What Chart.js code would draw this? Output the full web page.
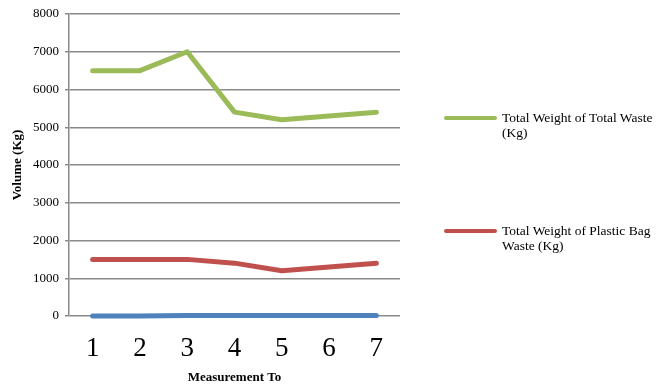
<!DOCTYPE html>
<html><head><meta charset="utf-8">
<script src="https://cdn.jsdelivr.net/npm/chart.js@4"></script>
<style>
html,body{margin:0;padding:0;background:#fff;}
#wrap{position:relative;width:656px;height:389px;}
canvas{position:absolute;left:0;top:0;}
.leg{position:absolute;font-family:"Liberation Serif","Times New Roman",serif;font-size:13.5px;line-height:15px;color:#000;white-space:nowrap;}
.sw{position:absolute;height:4px;border-radius:2px;}
</style></head><body>
<div id="wrap">
<canvas id="c" width="656" height="389"></canvas>
<div class="sw" style="left:444px;top:116px;width:53px;background:#9bbb59"></div>
<div class="leg" style="left:502px;top:110px;">Total Weight of Total Waste<br>(Kg)</div>
<div class="sw" style="left:444px;top:229px;width:53px;background:#c0504d"></div>
<div class="leg" style="left:502px;top:223px;">Total Weight of Plastic Bag<br>Waste (Kg)</div>
</div>
<script>
const categories = ["1","2","3","4","5","6","7"];
const totalWaste = [6500, 6500, 7000, 5400, 5200, 5300, 5400];
const plasticBag = [1500, 1500, 1500, 1400, 1200, 1300, 1400];
const thirdSeries = [0, 0, 10, 10, 10, 10, 10];
const yTicks = [0,1000,2000,3000,4000,5000,6000,7000,8000];

const serif = '"Liberation Serif","Times New Roman",serif';
const ds = (label, data, color) => ({label, data, borderColor: color, borderWidth: 5, pointRadius: 0, borderCapStyle: 'round', borderJoinStyle: 'round', tension: 0, clip: false});
new Chart(document.getElementById('c'), {
  type: 'line',
  data: {
    labels: categories,
    datasets: [
      ds('Series 3', thirdSeries, '#4f81bd'),
      ds('Total Weight of Plastic Bag Waste (Kg)', plasticBag, '#c0504d'),
      ds('Total Weight of Total Waste (Kg)', totalWaste, '#9bbb59')
    ]
  },
  options: {
    responsive: false, animation: false,
    layout: {padding: {left: 0, right: 256, top: 14, bottom: 0}},
    plugins: {legend: {display: false}, tooltip: {enabled: false}},
    scales: {
      x: {
        offset: true,
        grid: {display: false, offset: true},
        border: {display: false},
        ticks: {font: {family: serif, size: 27}, color: '#000', padding: 9, maxRotation: 0},
        title: {display: true, text: 'Measurement To', font: {family: serif, size: 13, weight: 'bold'}, color: '#000', padding: {top: 0, bottom: 4}},
        afterFit: s => { s.height = 73; }
      },
      y: {
        min: 0, max: 8000,
        afterBuildTicks: s => { s.ticks = yTicks.map(v => ({value: v})); },
        grid: {color: '#8a8a8a', lineWidth: 1.5, tickLength: 4, drawTicks: true},
        border: {display: true, color: '#8a8a8a', width: 1.5},
        ticks: {font: {family: serif, size: 13}, color: '#000', padding: 6, callback: v => String(v)},
        title: {display: true, text: 'Volume (Kg)', font: {family: serif, size: 13, weight: 'bold'}, color: '#000', padding: {top: 10, bottom: 4}},
        afterFit: s => { s.width = 69; }
      }
    }
  }
});
</script>
</body></html>
